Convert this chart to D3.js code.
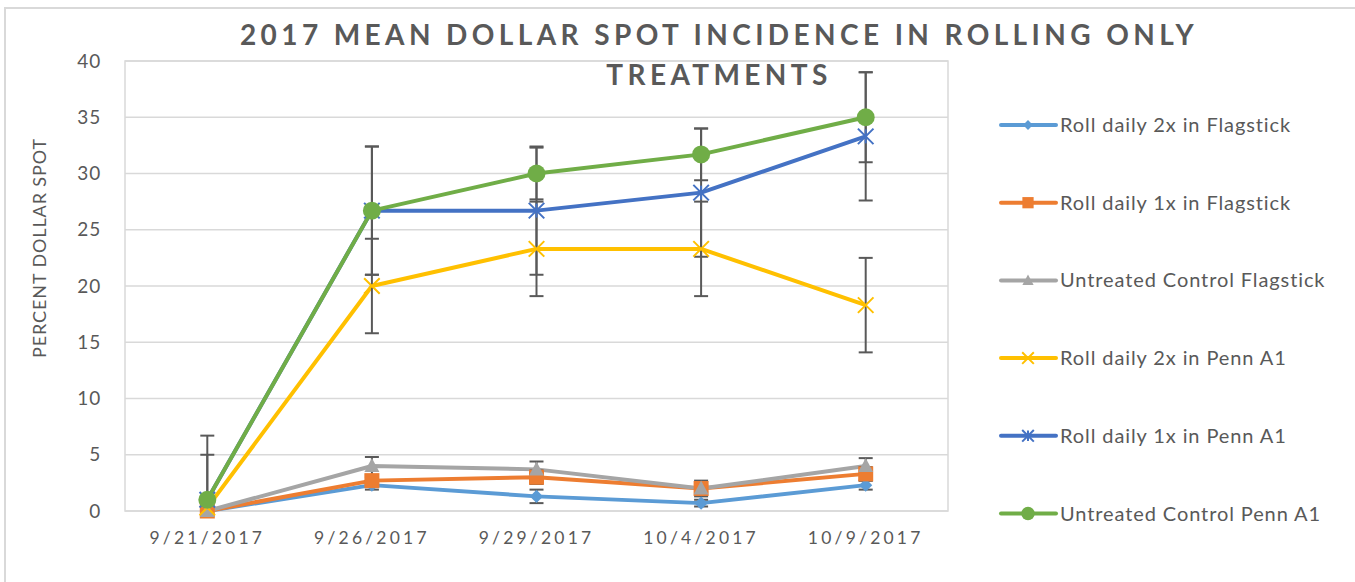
<!DOCTYPE html>
<html>
<head>
<meta charset="utf-8">
<script src="https://d3js.org/d3.v7.min.js"></script>
<style>
  body { margin: 0; background: #fff; }
  text { font-family: Lato, "Open Sans", sans-serif; fill: #595959; }
</style>
</head>
<body>
<div id="chart"></div>
<script>
// data
var dates = ["9/21/2017", "9/26/2017", "9/29/2017", "10/4/2017", "10/9/2017"];
var seriesNames = ["Roll daily 2x in Flagstick", "Roll daily 1x in Flagstick", "Untreated Control Flagstick",
                   "Roll daily 2x in Penn A1", "Roll daily 1x in Penn A1", "Untreated Control Penn A1"];
var roll2xFlag  = [0, 2.3, 1.3, 0.7, 2.3];
var roll1xFlag  = [0, 2.7, 3.0, 2.0, 3.3];
var ctrlFlag    = [0, 4.0, 3.7, 2.0, 4.0];
var roll2xPenn  = [0.3, 20.0, 23.3, 23.3, 18.3];
var roll1xPenn  = [1.0, 26.7, 26.7, 28.3, 33.3];
var ctrlPenn    = [1.0, 26.7, 30.0, 31.7, 35.0];
// standard error (+/-)
var roll2xFlagErr = [0, 0.4, 0.6, 0.3, 0.4];
var roll1xFlagErr = [0, 0.3, 0.6, 0.7, 0.6];
var ctrlFlagErr   = [0, 0.8, 0.7, 0.3, 0.7];
var roll2xPennErr = [0, 4.2, 4.2, 4.2, 4.2];
var roll1xPennErr = [4.0, 5.7, 5.7, 5.7, 5.7];
var ctrlPennErr   = [5.7, 5.7, 2.3, 2.3, 4.0];
var yTicks = [0, 5, 10, 15, 20, 25, 30, 35, 40];

var colors  = ["#5B9BD5", "#ED7D31", "#A5A5A5", "#FFC000", "#4472C4", "#70AD47"];
var symbols = ["diamond", "square", "triangle", "x", "star", "circle"];
var values  = [roll2xFlag, roll1xFlag, ctrlFlag, roll2xPenn, roll1xPenn, ctrlPenn];
var errs    = [roll2xFlagErr, roll1xFlagErr, ctrlFlagErr, roll2xPennErr, roll1xPennErr, ctrlPennErr];

var series = seriesNames.map(function(n, i) {
  return {
    name: n, color: colors[i], symbol: symbols[i],
    points: dates.map(function(d, j) { return {date: d, v: values[i][j], e: errs[i][j]}; })
  };
});

var W = 1355, H = 582;
var margin = {top: 61, left: 125, right: W - 948, bottom: H - 511},
    width  = W - margin.left - margin.right,
    height = H - margin.top - margin.bottom;

var svg = d3.select("#chart").append("svg")
    .attr("width", W)
    .attr("height", H);

// outer chart border
svg.append("rect")
    .attr("x", 5).attr("y", 8)
    .attr("width", W + 20).attr("height", H + 20)
    .attr("fill", "none")
    .attr("stroke", "#d9d9d9")
    .attr("stroke-width", 2);

var x = d3.scaleBand().domain(dates).range([0, width]),
    y = d3.scaleLinear().domain([0, 40]).range([height, 0]);

var g = svg.append("g").attr("transform", "translate(" + margin.left + "," + margin.top + ")");

// gridlines
g.selectAll(".hgrid").data(yTicks).enter()
  .append("line")
    .attr("class", "hgrid")
    .attr("x1", 0).attr("x2", width)
    .attr("y1", function(d) { return y(d); })
    .attr("y2", function(d) { return y(d); })
    .attr("stroke", "#d9d9d9")
    .attr("stroke-width", 1.5);

g.append("rect")
    .attr("width", width).attr("height", height)
    .attr("fill", "none")
    .attr("stroke", "#d9d9d9")
    .attr("stroke-width", 1.5);

// y axis
var yAxis = g.append("g")
    .call(d3.axisLeft(y).tickValues(yTicks).tickSize(0).tickPadding(24));
yAxis.select(".domain").remove();
yAxis.selectAll("text")
    .style("font-size", "19px")
    .style("font-family", "Lato, sans-serif")
    .style("letter-spacing", "0.8px")
    .attr("fill", "#595959");

// x axis
var xAxis = g.append("g")
    .attr("transform", "translate(0," + height + ")")
    .call(d3.axisBottom(x).tickSize(0).tickPadding(21));
xAxis.select(".domain").remove();
xAxis.selectAll("text")
    .style("font-size", "17.5px")
    .style("font-family", "Lato, sans-serif")
    .style("letter-spacing", "3.2px")
    .attr("fill", "#595959");

var cx = function(d) { return x(d.date) + x.bandwidth() / 2; };

var clip = svg.append("clipPath").attr("id", "plotclip")
  .append("rect").attr("width", width).attr("height", height);

var line = d3.line()
    .x(cx)
    .y(function(d) { return y(d.v); });

// lines
g.selectAll(".series").data(series).enter()
  .append("path")
    .attr("class", "series")
    .attr("fill", "none")
    .attr("stroke", function(d) { return d.color; })
    .attr("stroke-width", 4)
    .attr("stroke-linejoin", "round")
    .attr("d", function(d) { return line(d.points); });

// error bars
var eg = g.append("g").attr("clip-path", "url(#plotclip)");
series.forEach(function(s) {
  var pts = s.points.filter(function(p) { return p.e > 0; });
  var bars = eg.selectAll(null).data(pts).enter().append("g");
  bars.append("line")
      .attr("x1", cx).attr("x2", cx)
      .attr("y1", function(p) { return y(p.v + p.e); })
      .attr("y2", function(p) { return y(p.v - p.e); })
      .attr("stroke", "#595959").attr("stroke-width", 2);
  [1, -1].forEach(function(sign) {
    bars.append("line")
        .attr("x1", function(p) { return cx(p) - 7; })
        .attr("x2", function(p) { return cx(p) + 7; })
        .attr("y1", function(p) { return y(p.v + sign * p.e); })
        .attr("y2", function(p) { return y(p.v + sign * p.e); })
        .attr("stroke", "#595959").attr("stroke-width", 2);
  });
});

// marker drawing
function drawMarker(sel, sym, color, k) {
  if (sym === "diamond") {
    sel.append("path").attr("d", d3.symbol().type(d3.symbolDiamond2).size(110 * k * k)).attr("fill", color);
  } else if (sym === "square") {
    sel.append("rect").attr("x", -7.5 * k).attr("y", -7.5 * k).attr("width", 15 * k).attr("height", 15 * k).attr("fill", color);
  } else if (sym === "triangle") {
    sel.append("path").attr("d", "M0," + (-8 * k) + "L" + (7.5 * k) + "," + (6 * k) + "L" + (-7.5 * k) + "," + (6 * k) + "Z").attr("fill", color);
  } else if (sym === "x") {
    sel.append("path").attr("d", d3.symbol().type(d3.symbolX).size(160 * k * k))
      .attr("fill", "none").attr("stroke", color).attr("stroke-width", 2);
  } else if (sym === "star") {
    sel.append("path").attr("d", d3.symbol().type(d3.symbolX).size(160 * k * k))
      .attr("fill", "none").attr("stroke", color).attr("stroke-width", 2);
    sel.append("line").attr("y1", -7 * k).attr("y2", 7 * k)
      .attr("stroke", color).attr("stroke-width", 2);
  } else {
    sel.append("circle").attr("r", 9 * k).attr("fill", color);
  }
}

series.forEach(function(s) {
  g.selectAll(null).data(s.points).enter().append("g")
      .attr("transform", function(p) { return "translate(" + cx(p) + "," + y(p.v) + ")"; })
      .each(function() { drawMarker(d3.select(this), s.symbol, s.color, 1); });
});

// legend
var legend = svg.append("g").attr("transform", "translate(1001,125)");
var item = legend.selectAll(".item").data(series).enter()
  .append("g")
    .attr("class", "item")
    .attr("transform", function(d, i) { return "translate(0," + (i * 77.7) + ")"; });
item.append("line")
    .attr("x1", 0).attr("x2", 55)
    .attr("stroke", function(d) { return d.color; })
    .attr("stroke-width", 4)
    .attr("stroke-linecap", "round");
item.each(function(d) {
  drawMarker(d3.select(this).append("g").attr("transform", "translate(27,0)"), d.symbol, d.color, 0.75);
});
item.append("text")
    .attr("x", 59)
    .attr("dy", "0.35em")
    .style("font-size", "20px")
    .style("letter-spacing", "0.9px")
    .text(function(d) { return d.name; });

// titles
var title = svg.append("text")
    .attr("text-anchor", "middle")
    .style("font-size", "28px")
    .style("font-weight", "bold")
    .style("letter-spacing", "4.4px");
title.append("tspan").attr("x", 719).attr("y", 45).text("2017 MEAN DOLLAR SPOT INCIDENCE IN ROLLING ONLY");
title.append("tspan").attr("x", 719).attr("y", 85).text("TREATMENTS");

svg.append("text")
    .attr("transform", "translate(46,248) rotate(-90)")
    .attr("text-anchor", "middle")
    .style("font-size", "18px")
    .style("letter-spacing", "0.9px")
    .text("PERCENT DOLLAR SPOT");
</script>
</body>
</html>
